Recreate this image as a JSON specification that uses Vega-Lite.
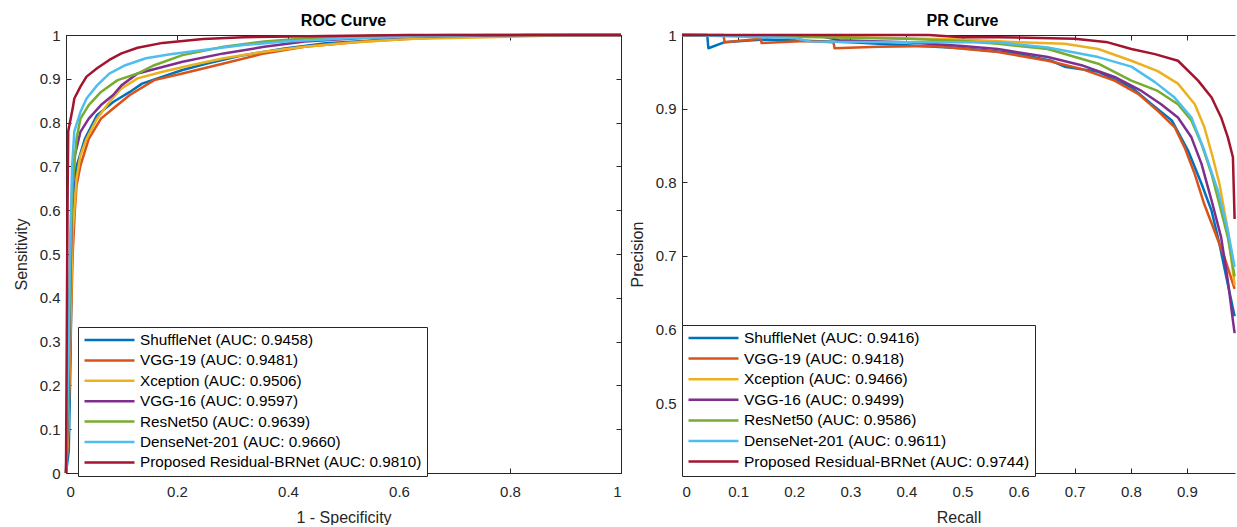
{
  "$schema": "https://vega.github.io/schema/vega-lite/v6.json",
  "background": "white",
  "padding": {"left": 13, "top": 13, "right": 0, "bottom": 0},
  "spacing": 6,
  "config": {
    "font": "Liberation Sans",
    "view": {"stroke": null},
    "axis": {
      "grid": false,
      "labelFontSize": 15,
      "labelColor": "#262626",
      "titleFontSize": 16,
      "titleFontWeight": "normal",
      "titleColor": "#262626",
      "domainColor": "#262626",
      "tickColor": "#262626",
      "tickSize": -5,
      "labelPadding": 11,
      "format": "~g"
    },
    "title": {"fontSize": 16, "fontWeight": "bold", "color": "#000000", "offset": -1}
  },
  "datasets": {
    "roc": [
      {"model": "ShuffleNet (AUC: 0.9458)", "fpr": 0, "tpr": 0},
      {"model": "ShuffleNet (AUC: 0.9458)", "fpr": 0.005, "tpr": 0.05},
      {"model": "ShuffleNet (AUC: 0.9458)", "fpr": 0.008, "tpr": 0.25},
      {"model": "ShuffleNet (AUC: 0.9458)", "fpr": 0.01, "tpr": 0.45},
      {"model": "ShuffleNet (AUC: 0.9458)", "fpr": 0.013, "tpr": 0.6},
      {"model": "ShuffleNet (AUC: 0.9458)", "fpr": 0.019, "tpr": 0.7},
      {"model": "ShuffleNet (AUC: 0.9458)", "fpr": 0.034, "tpr": 0.763},
      {"model": "ShuffleNet (AUC: 0.9458)", "fpr": 0.056, "tpr": 0.817},
      {"model": "ShuffleNet (AUC: 0.9458)", "fpr": 0.085, "tpr": 0.847},
      {"model": "ShuffleNet (AUC: 0.9458)", "fpr": 0.115, "tpr": 0.87},
      {"model": "ShuffleNet (AUC: 0.9458)", "fpr": 0.137, "tpr": 0.889},
      {"model": "ShuffleNet (AUC: 0.9458)", "fpr": 0.174, "tpr": 0.905},
      {"model": "ShuffleNet (AUC: 0.9458)", "fpr": 0.21, "tpr": 0.92},
      {"model": "ShuffleNet (AUC: 0.9458)", "fpr": 0.254, "tpr": 0.935},
      {"model": "ShuffleNet (AUC: 0.9458)", "fpr": 0.32, "tpr": 0.954},
      {"model": "ShuffleNet (AUC: 0.9458)", "fpr": 0.394, "tpr": 0.969},
      {"model": "ShuffleNet (AUC: 0.9458)", "fpr": 0.468, "tpr": 0.981},
      {"model": "ShuffleNet (AUC: 0.9458)", "fpr": 0.615, "tpr": 0.992},
      {"model": "ShuffleNet (AUC: 0.9458)", "fpr": 0.76, "tpr": 0.998},
      {"model": "ShuffleNet (AUC: 0.9458)", "fpr": 0.91, "tpr": 1},
      {"model": "ShuffleNet (AUC: 0.9458)", "fpr": 1, "tpr": 1},

      {"model": "VGG-19 (AUC: 0.9481)", "fpr": 0, "tpr": 0},
      {"model": "VGG-19 (AUC: 0.9481)", "fpr": 0.004, "tpr": 0.1},
      {"model": "VGG-19 (AUC: 0.9481)", "fpr": 0.009, "tpr": 0.35},
      {"model": "VGG-19 (AUC: 0.9481)", "fpr": 0.012, "tpr": 0.5},
      {"model": "VGG-19 (AUC: 0.9481)", "fpr": 0.016, "tpr": 0.6},
      {"model": "VGG-19 (AUC: 0.9481)", "fpr": 0.019, "tpr": 0.656},
      {"model": "VGG-19 (AUC: 0.9481)", "fpr": 0.026, "tpr": 0.702},
      {"model": "VGG-19 (AUC: 0.9481)", "fpr": 0.041, "tpr": 0.763},
      {"model": "VGG-19 (AUC: 0.9481)", "fpr": 0.063, "tpr": 0.809},
      {"model": "VGG-19 (AUC: 0.9481)", "fpr": 0.085, "tpr": 0.832},
      {"model": "VGG-19 (AUC: 0.9481)", "fpr": 0.115, "tpr": 0.863},
      {"model": "VGG-19 (AUC: 0.9481)", "fpr": 0.159, "tpr": 0.897},
      {"model": "VGG-19 (AUC: 0.9481)", "fpr": 0.21, "tpr": 0.912},
      {"model": "VGG-19 (AUC: 0.9481)", "fpr": 0.284, "tpr": 0.935},
      {"model": "VGG-19 (AUC: 0.9481)", "fpr": 0.357, "tpr": 0.958},
      {"model": "VGG-19 (AUC: 0.9481)", "fpr": 0.43, "tpr": 0.973},
      {"model": "VGG-19 (AUC: 0.9481)", "fpr": 0.54, "tpr": 0.986},
      {"model": "VGG-19 (AUC: 0.9481)", "fpr": 0.69, "tpr": 0.996},
      {"model": "VGG-19 (AUC: 0.9481)", "fpr": 0.83, "tpr": 1},
      {"model": "VGG-19 (AUC: 0.9481)", "fpr": 1, "tpr": 1},

      {"model": "Xception (AUC: 0.9506)", "fpr": 0, "tpr": 0},
      {"model": "Xception (AUC: 0.9506)", "fpr": 0.004, "tpr": 0.1},
      {"model": "Xception (AUC: 0.9506)", "fpr": 0.008, "tpr": 0.35},
      {"model": "Xception (AUC: 0.9506)", "fpr": 0.012, "tpr": 0.55},
      {"model": "Xception (AUC: 0.9506)", "fpr": 0.019, "tpr": 0.672},
      {"model": "Xception (AUC: 0.9506)", "fpr": 0.026, "tpr": 0.725},
      {"model": "Xception (AUC: 0.9506)", "fpr": 0.037, "tpr": 0.763},
      {"model": "Xception (AUC: 0.9506)", "fpr": 0.056, "tpr": 0.809},
      {"model": "Xception (AUC: 0.9506)", "fpr": 0.078, "tpr": 0.847},
      {"model": "Xception (AUC: 0.9506)", "fpr": 0.1, "tpr": 0.878},
      {"model": "Xception (AUC: 0.9506)", "fpr": 0.129, "tpr": 0.901},
      {"model": "Xception (AUC: 0.9506)", "fpr": 0.174, "tpr": 0.916},
      {"model": "Xception (AUC: 0.9506)", "fpr": 0.225, "tpr": 0.931},
      {"model": "Xception (AUC: 0.9506)", "fpr": 0.284, "tpr": 0.947},
      {"model": "Xception (AUC: 0.9506)", "fpr": 0.357, "tpr": 0.962},
      {"model": "Xception (AUC: 0.9506)", "fpr": 0.43, "tpr": 0.973},
      {"model": "Xception (AUC: 0.9506)", "fpr": 0.504, "tpr": 0.982},
      {"model": "Xception (AUC: 0.9506)", "fpr": 0.615, "tpr": 0.991},
      {"model": "Xception (AUC: 0.9506)", "fpr": 0.8, "tpr": 0.996},
      {"model": "Xception (AUC: 0.9506)", "fpr": 0.91, "tpr": 1},
      {"model": "Xception (AUC: 0.9506)", "fpr": 1, "tpr": 1},

      {"model": "VGG-16 (AUC: 0.9597)", "fpr": 0, "tpr": 0},
      {"model": "VGG-16 (AUC: 0.9597)", "fpr": 0.004, "tpr": 0.15},
      {"model": "VGG-16 (AUC: 0.9597)", "fpr": 0.008, "tpr": 0.45},
      {"model": "VGG-16 (AUC: 0.9597)", "fpr": 0.011, "tpr": 0.62},
      {"model": "VGG-16 (AUC: 0.9597)", "fpr": 0.015, "tpr": 0.72},
      {"model": "VGG-16 (AUC: 0.9597)", "fpr": 0.026, "tpr": 0.779},
      {"model": "VGG-16 (AUC: 0.9597)", "fpr": 0.041, "tpr": 0.809},
      {"model": "VGG-16 (AUC: 0.9597)", "fpr": 0.063, "tpr": 0.84},
      {"model": "VGG-16 (AUC: 0.9597)", "fpr": 0.085, "tpr": 0.863},
      {"model": "VGG-16 (AUC: 0.9597)", "fpr": 0.1, "tpr": 0.885},
      {"model": "VGG-16 (AUC: 0.9597)", "fpr": 0.129, "tpr": 0.912},
      {"model": "VGG-16 (AUC: 0.9597)", "fpr": 0.174, "tpr": 0.927},
      {"model": "VGG-16 (AUC: 0.9597)", "fpr": 0.21, "tpr": 0.939},
      {"model": "VGG-16 (AUC: 0.9597)", "fpr": 0.284, "tpr": 0.958},
      {"model": "VGG-16 (AUC: 0.9597)", "fpr": 0.357, "tpr": 0.973},
      {"model": "VGG-16 (AUC: 0.9597)", "fpr": 0.43, "tpr": 0.985},
      {"model": "VGG-16 (AUC: 0.9597)", "fpr": 0.54, "tpr": 0.994},
      {"model": "VGG-16 (AUC: 0.9597)", "fpr": 0.69, "tpr": 0.998},
      {"model": "VGG-16 (AUC: 0.9597)", "fpr": 0.83, "tpr": 1},
      {"model": "VGG-16 (AUC: 0.9597)", "fpr": 1, "tpr": 1},

      {"model": "ResNet50 (AUC: 0.9639)", "fpr": 0, "tpr": 0},
      {"model": "ResNet50 (AUC: 0.9639)", "fpr": 0.004, "tpr": 0.2},
      {"model": "ResNet50 (AUC: 0.9639)", "fpr": 0.008, "tpr": 0.5},
      {"model": "ResNet50 (AUC: 0.9639)", "fpr": 0.012, "tpr": 0.66},
      {"model": "ResNet50 (AUC: 0.9639)", "fpr": 0.019, "tpr": 0.763},
      {"model": "ResNet50 (AUC: 0.9639)", "fpr": 0.026, "tpr": 0.809},
      {"model": "ResNet50 (AUC: 0.9639)", "fpr": 0.041, "tpr": 0.84},
      {"model": "ResNet50 (AUC: 0.9639)", "fpr": 0.063, "tpr": 0.87},
      {"model": "ResNet50 (AUC: 0.9639)", "fpr": 0.093, "tpr": 0.897},
      {"model": "ResNet50 (AUC: 0.9639)", "fpr": 0.129, "tpr": 0.912},
      {"model": "ResNet50 (AUC: 0.9639)", "fpr": 0.159, "tpr": 0.931},
      {"model": "ResNet50 (AUC: 0.9639)", "fpr": 0.21, "tpr": 0.954},
      {"model": "ResNet50 (AUC: 0.9639)", "fpr": 0.284, "tpr": 0.973},
      {"model": "ResNet50 (AUC: 0.9639)", "fpr": 0.357, "tpr": 0.985},
      {"model": "ResNet50 (AUC: 0.9639)", "fpr": 0.43, "tpr": 0.992},
      {"model": "ResNet50 (AUC: 0.9639)", "fpr": 0.54, "tpr": 0.998},
      {"model": "ResNet50 (AUC: 0.9639)", "fpr": 0.69, "tpr": 1},
      {"model": "ResNet50 (AUC: 0.9639)", "fpr": 1, "tpr": 1},

      {"model": "DenseNet-201 (AUC: 0.9660)", "fpr": 0, "tpr": 0},
      {"model": "DenseNet-201 (AUC: 0.9660)", "fpr": 0.004, "tpr": 0.25},
      {"model": "DenseNet-201 (AUC: 0.9660)", "fpr": 0.008, "tpr": 0.55},
      {"model": "DenseNet-201 (AUC: 0.9660)", "fpr": 0.011, "tpr": 0.7},
      {"model": "DenseNet-201 (AUC: 0.9660)", "fpr": 0.015, "tpr": 0.78},
      {"model": "DenseNet-201 (AUC: 0.9660)", "fpr": 0.026, "tpr": 0.824},
      {"model": "DenseNet-201 (AUC: 0.9660)", "fpr": 0.037, "tpr": 0.855},
      {"model": "DenseNet-201 (AUC: 0.9660)", "fpr": 0.056, "tpr": 0.885},
      {"model": "DenseNet-201 (AUC: 0.9660)", "fpr": 0.078, "tpr": 0.912},
      {"model": "DenseNet-201 (AUC: 0.9660)", "fpr": 0.107, "tpr": 0.931},
      {"model": "DenseNet-201 (AUC: 0.9660)", "fpr": 0.144, "tpr": 0.947},
      {"model": "DenseNet-201 (AUC: 0.9660)", "fpr": 0.188, "tpr": 0.956},
      {"model": "DenseNet-201 (AUC: 0.9660)", "fpr": 0.247, "tpr": 0.966},
      {"model": "DenseNet-201 (AUC: 0.9660)", "fpr": 0.32, "tpr": 0.977},
      {"model": "DenseNet-201 (AUC: 0.9660)", "fpr": 0.394, "tpr": 0.985},
      {"model": "DenseNet-201 (AUC: 0.9660)", "fpr": 0.504, "tpr": 0.992},
      {"model": "DenseNet-201 (AUC: 0.9660)", "fpr": 0.615, "tpr": 0.996},
      {"model": "DenseNet-201 (AUC: 0.9660)", "fpr": 0.76, "tpr": 1},
      {"model": "DenseNet-201 (AUC: 0.9660)", "fpr": 1, "tpr": 1},

      {"model": "Proposed Residual-BRNet (AUC: 0.9810)", "fpr": 0, "tpr": 0},
      {"model": "Proposed Residual-BRNet (AUC: 0.9810)", "fpr": 0.002, "tpr": 0.45},
      {"model": "Proposed Residual-BRNet (AUC: 0.9810)", "fpr": 0.003, "tpr": 0.65},
      {"model": "Proposed Residual-BRNet (AUC: 0.9810)", "fpr": 0.004, "tpr": 0.78},
      {"model": "Proposed Residual-BRNet (AUC: 0.9810)", "fpr": 0.012, "tpr": 0.832},
      {"model": "Proposed Residual-BRNet (AUC: 0.9810)", "fpr": 0.015, "tpr": 0.855},
      {"model": "Proposed Residual-BRNet (AUC: 0.9810)", "fpr": 0.026, "tpr": 0.882},
      {"model": "Proposed Residual-BRNet (AUC: 0.9810)", "fpr": 0.037, "tpr": 0.905},
      {"model": "Proposed Residual-BRNet (AUC: 0.9810)", "fpr": 0.056, "tpr": 0.924},
      {"model": "Proposed Residual-BRNet (AUC: 0.9810)", "fpr": 0.078, "tpr": 0.943},
      {"model": "Proposed Residual-BRNet (AUC: 0.9810)", "fpr": 0.1, "tpr": 0.958},
      {"model": "Proposed Residual-BRNet (AUC: 0.9810)", "fpr": 0.129, "tpr": 0.971},
      {"model": "Proposed Residual-BRNet (AUC: 0.9810)", "fpr": 0.174, "tpr": 0.982},
      {"model": "Proposed Residual-BRNet (AUC: 0.9810)", "fpr": 0.247, "tpr": 0.991},
      {"model": "Proposed Residual-BRNet (AUC: 0.9810)", "fpr": 0.32, "tpr": 0.995},
      {"model": "Proposed Residual-BRNet (AUC: 0.9810)", "fpr": 0.468, "tpr": 0.998},
      {"model": "Proposed Residual-BRNet (AUC: 0.9810)", "fpr": 0.615, "tpr": 1},
      {"model": "Proposed Residual-BRNet (AUC: 0.9810)", "fpr": 1, "tpr": 1}
    ],
    "pr": [
      {"model": "ShuffleNet (AUC: 0.9416)", "recall": 0, "precision": 1},
      {"model": "ShuffleNet (AUC: 0.9416)", "recall": 0.045, "precision": 1},
      {"model": "ShuffleNet (AUC: 0.9416)", "recall": 0.047, "precision": 0.982},
      {"model": "ShuffleNet (AUC: 0.9416)", "recall": 0.075, "precision": 0.99},
      {"model": "ShuffleNet (AUC: 0.9416)", "recall": 0.15, "precision": 0.994},
      {"model": "ShuffleNet (AUC: 0.9416)", "recall": 0.3, "precision": 0.99},
      {"model": "ShuffleNet (AUC: 0.9416)", "recall": 0.4, "precision": 0.986},
      {"model": "ShuffleNet (AUC: 0.9416)", "recall": 0.5, "precision": 0.982},
      {"model": "ShuffleNet (AUC: 0.9416)", "recall": 0.587, "precision": 0.976},
      {"model": "ShuffleNet (AUC: 0.9416)", "recall": 0.658, "precision": 0.965},
      {"model": "ShuffleNet (AUC: 0.9416)", "recall": 0.682, "precision": 0.957},
      {"model": "ShuffleNet (AUC: 0.9416)", "recall": 0.742, "precision": 0.95},
      {"model": "ShuffleNet (AUC: 0.9416)", "recall": 0.801, "precision": 0.929},
      {"model": "ShuffleNet (AUC: 0.9416)", "recall": 0.837, "precision": 0.906},
      {"model": "ShuffleNet (AUC: 0.9416)", "recall": 0.873, "precision": 0.884},
      {"model": "ShuffleNet (AUC: 0.9416)", "recall": 0.902, "precision": 0.843},
      {"model": "ShuffleNet (AUC: 0.9416)", "recall": 0.926, "precision": 0.798},
      {"model": "ShuffleNet (AUC: 0.9416)", "recall": 0.944, "precision": 0.761},
      {"model": "ShuffleNet (AUC: 0.9416)", "recall": 0.958, "precision": 0.716},
      {"model": "ShuffleNet (AUC: 0.9416)", "recall": 0.973, "precision": 0.661},
      {"model": "ShuffleNet (AUC: 0.9416)", "recall": 0.985, "precision": 0.618},

      {"model": "VGG-19 (AUC: 0.9418)", "recall": 0, "precision": 1},
      {"model": "VGG-19 (AUC: 0.9418)", "recall": 0.074, "precision": 1},
      {"model": "VGG-19 (AUC: 0.9418)", "recall": 0.076, "precision": 0.99},
      {"model": "VGG-19 (AUC: 0.9418)", "recall": 0.14, "precision": 0.995},
      {"model": "VGG-19 (AUC: 0.9418)", "recall": 0.142, "precision": 0.989},
      {"model": "VGG-19 (AUC: 0.9418)", "recall": 0.22, "precision": 0.992},
      {"model": "VGG-19 (AUC: 0.9418)", "recall": 0.27, "precision": 0.99},
      {"model": "VGG-19 (AUC: 0.9418)", "recall": 0.272, "precision": 0.982},
      {"model": "VGG-19 (AUC: 0.9418)", "recall": 0.35, "precision": 0.984},
      {"model": "VGG-19 (AUC: 0.9418)", "recall": 0.45, "precision": 0.985},
      {"model": "VGG-19 (AUC: 0.9418)", "recall": 0.52, "precision": 0.98},
      {"model": "VGG-19 (AUC: 0.9418)", "recall": 0.563, "precision": 0.977},
      {"model": "VGG-19 (AUC: 0.9418)", "recall": 0.652, "precision": 0.965},
      {"model": "VGG-19 (AUC: 0.9418)", "recall": 0.712, "precision": 0.954},
      {"model": "VGG-19 (AUC: 0.9418)", "recall": 0.771, "precision": 0.938},
      {"model": "VGG-19 (AUC: 0.9418)", "recall": 0.813, "precision": 0.92},
      {"model": "VGG-19 (AUC: 0.9418)", "recall": 0.848, "precision": 0.897},
      {"model": "VGG-19 (AUC: 0.9418)", "recall": 0.878, "precision": 0.875},
      {"model": "VGG-19 (AUC: 0.9418)", "recall": 0.896, "precision": 0.847},
      {"model": "VGG-19 (AUC: 0.9418)", "recall": 0.914, "precision": 0.811},
      {"model": "VGG-19 (AUC: 0.9418)", "recall": 0.931, "precision": 0.77},
      {"model": "VGG-19 (AUC: 0.9418)", "recall": 0.949, "precision": 0.734},
      {"model": "VGG-19 (AUC: 0.9418)", "recall": 0.967, "precision": 0.698},
      {"model": "VGG-19 (AUC: 0.9418)", "recall": 0.985, "precision": 0.655},

      {"model": "Xception (AUC: 0.9466)", "recall": 0, "precision": 1},
      {"model": "Xception (AUC: 0.9466)", "recall": 0.3, "precision": 0.997},
      {"model": "Xception (AUC: 0.9466)", "recall": 0.5, "precision": 0.994},
      {"model": "Xception (AUC: 0.9466)", "recall": 0.6, "precision": 0.99},
      {"model": "Xception (AUC: 0.9466)", "recall": 0.682, "precision": 0.988},
      {"model": "Xception (AUC: 0.9466)", "recall": 0.742, "precision": 0.981},
      {"model": "Xception (AUC: 0.9466)", "recall": 0.801, "precision": 0.965},
      {"model": "Xception (AUC: 0.9466)", "recall": 0.848, "precision": 0.951},
      {"model": "Xception (AUC: 0.9466)", "recall": 0.884, "precision": 0.934},
      {"model": "Xception (AUC: 0.9466)", "recall": 0.914, "precision": 0.906},
      {"model": "Xception (AUC: 0.9466)", "recall": 0.931, "precision": 0.875},
      {"model": "Xception (AUC: 0.9466)", "recall": 0.946, "precision": 0.834},
      {"model": "Xception (AUC: 0.9466)", "recall": 0.958, "precision": 0.798},
      {"model": "Xception (AUC: 0.9466)", "recall": 0.973, "precision": 0.734},
      {"model": "Xception (AUC: 0.9466)", "recall": 0.985, "precision": 0.66},

      {"model": "VGG-16 (AUC: 0.9499)", "recall": 0, "precision": 1},
      {"model": "VGG-16 (AUC: 0.9499)", "recall": 0.25, "precision": 0.998},
      {"model": "VGG-16 (AUC: 0.9499)", "recall": 0.28, "precision": 0.993},
      {"model": "VGG-16 (AUC: 0.9499)", "recall": 0.4, "precision": 0.99},
      {"model": "VGG-16 (AUC: 0.9499)", "recall": 0.5, "precision": 0.985},
      {"model": "VGG-16 (AUC: 0.9499)", "recall": 0.563, "precision": 0.981},
      {"model": "VGG-16 (AUC: 0.9499)", "recall": 0.652, "precision": 0.97},
      {"model": "VGG-16 (AUC: 0.9499)", "recall": 0.712, "precision": 0.959},
      {"model": "VGG-16 (AUC: 0.9499)", "recall": 0.771, "precision": 0.943},
      {"model": "VGG-16 (AUC: 0.9499)", "recall": 0.819, "precision": 0.924},
      {"model": "VGG-16 (AUC: 0.9499)", "recall": 0.854, "precision": 0.906},
      {"model": "VGG-16 (AUC: 0.9499)", "recall": 0.884, "precision": 0.888},
      {"model": "VGG-16 (AUC: 0.9499)", "recall": 0.908, "precision": 0.861},
      {"model": "VGG-16 (AUC: 0.9499)", "recall": 0.926, "precision": 0.825},
      {"model": "VGG-16 (AUC: 0.9499)", "recall": 0.944, "precision": 0.775},
      {"model": "VGG-16 (AUC: 0.9499)", "recall": 0.961, "precision": 0.725},
      {"model": "VGG-16 (AUC: 0.9499)", "recall": 0.973, "precision": 0.666},
      {"model": "VGG-16 (AUC: 0.9499)", "recall": 0.982, "precision": 0.612},
      {"model": "VGG-16 (AUC: 0.9499)", "recall": 0.985, "precision": 0.595},

      {"model": "ResNet50 (AUC: 0.9586)", "recall": 0, "precision": 1},
      {"model": "ResNet50 (AUC: 0.9586)", "recall": 0.4, "precision": 0.995},
      {"model": "ResNet50 (AUC: 0.9586)", "recall": 0.5, "precision": 0.992},
      {"model": "ResNet50 (AUC: 0.9586)", "recall": 0.563, "precision": 0.988},
      {"model": "ResNet50 (AUC: 0.9586)", "recall": 0.652, "precision": 0.981},
      {"model": "ResNet50 (AUC: 0.9586)", "recall": 0.742, "precision": 0.961},
      {"model": "ResNet50 (AUC: 0.9586)", "recall": 0.801, "precision": 0.938},
      {"model": "ResNet50 (AUC: 0.9586)", "recall": 0.848, "precision": 0.924},
      {"model": "ResNet50 (AUC: 0.9586)", "recall": 0.884, "precision": 0.906},
      {"model": "ResNet50 (AUC: 0.9586)", "recall": 0.908, "precision": 0.884},
      {"model": "ResNet50 (AUC: 0.9586)", "recall": 0.926, "precision": 0.852},
      {"model": "ResNet50 (AUC: 0.9586)", "recall": 0.944, "precision": 0.811},
      {"model": "ResNet50 (AUC: 0.9586)", "recall": 0.961, "precision": 0.761},
      {"model": "ResNet50 (AUC: 0.9586)", "recall": 0.973, "precision": 0.725},
      {"model": "ResNet50 (AUC: 0.9586)", "recall": 0.985, "precision": 0.672},

      {"model": "DenseNet-201 (AUC: 0.9611)", "recall": 0, "precision": 1},
      {"model": "DenseNet-201 (AUC: 0.9611)", "recall": 0.2, "precision": 0.996},
      {"model": "DenseNet-201 (AUC: 0.9611)", "recall": 0.23, "precision": 0.991},
      {"model": "DenseNet-201 (AUC: 0.9611)", "recall": 0.4, "precision": 0.99},
      {"model": "DenseNet-201 (AUC: 0.9611)", "recall": 0.563, "precision": 0.99},
      {"model": "DenseNet-201 (AUC: 0.9611)", "recall": 0.652, "precision": 0.983},
      {"model": "DenseNet-201 (AUC: 0.9611)", "recall": 0.742, "precision": 0.97},
      {"model": "DenseNet-201 (AUC: 0.9611)", "recall": 0.801, "precision": 0.957},
      {"model": "DenseNet-201 (AUC: 0.9611)", "recall": 0.843, "precision": 0.936},
      {"model": "DenseNet-201 (AUC: 0.9611)", "recall": 0.878, "precision": 0.915},
      {"model": "DenseNet-201 (AUC: 0.9611)", "recall": 0.908, "precision": 0.888},
      {"model": "DenseNet-201 (AUC: 0.9611)", "recall": 0.931, "precision": 0.843},
      {"model": "DenseNet-201 (AUC: 0.9611)", "recall": 0.955, "precision": 0.789},
      {"model": "DenseNet-201 (AUC: 0.9611)", "recall": 0.973, "precision": 0.734},
      {"model": "DenseNet-201 (AUC: 0.9611)", "recall": 0.985, "precision": 0.685},

      {"model": "Proposed Residual-BRNet (AUC: 0.9744)", "recall": 0, "precision": 1},
      {"model": "Proposed Residual-BRNet (AUC: 0.9744)", "recall": 0.44, "precision": 1},
      {"model": "Proposed Residual-BRNet (AUC: 0.9744)", "recall": 0.5, "precision": 0.997},
      {"model": "Proposed Residual-BRNet (AUC: 0.9744)", "recall": 0.563, "precision": 0.997},
      {"model": "Proposed Residual-BRNet (AUC: 0.9744)", "recall": 0.7, "precision": 0.995},
      {"model": "Proposed Residual-BRNet (AUC: 0.9744)", "recall": 0.759, "precision": 0.99},
      {"model": "Proposed Residual-BRNet (AUC: 0.9744)", "recall": 0.801, "precision": 0.981},
      {"model": "Proposed Residual-BRNet (AUC: 0.9744)", "recall": 0.843, "precision": 0.974},
      {"model": "Proposed Residual-BRNet (AUC: 0.9744)", "recall": 0.884, "precision": 0.965},
      {"model": "Proposed Residual-BRNet (AUC: 0.9744)", "recall": 0.92, "precision": 0.938},
      {"model": "Proposed Residual-BRNet (AUC: 0.9744)", "recall": 0.944, "precision": 0.915},
      {"model": "Proposed Residual-BRNet (AUC: 0.9744)", "recall": 0.961, "precision": 0.888},
      {"model": "Proposed Residual-BRNet (AUC: 0.9744)", "recall": 0.973, "precision": 0.861},
      {"model": "Proposed Residual-BRNet (AUC: 0.9744)", "recall": 0.982, "precision": 0.834},
      {"model": "Proposed Residual-BRNet (AUC: 0.9744)", "recall": 0.985, "precision": 0.75}
    ]
  },
  "resolve": {"scale": {"color": "independent", "strokeWidth": "independent"}, "legend": {"color": "independent", "strokeWidth": "independent"}},
  "hconcat": [
    {
      "width": 555,
      "height": 438,
      "data": {"name": "roc"},
      "title": {"text": "ROC Curve"},
      "layer": [
        {
          "mark": {"type": "line", "strokeJoin": "round"},
          "encoding": {
            "x": {"field": "fpr", "type": "quantitative", "scale": {"domain": [0, 1], "nice": false, "zero": false},
                  "axis": {"orient": "bottom", "values": [0, 0.2, 0.4, 0.6, 0.8, 1], "title": "1 - Specificity", "labelPadding": 16, "titlePadding": 10}},
            "y": {"field": "tpr", "type": "quantitative", "scale": {"domain": [0, 1], "nice": false, "zero": false},
                  "axis": {"orient": "left", "values": [0, 0.1, 0.2, 0.3, 0.4, 0.5, 0.6, 0.7, 0.8, 0.9, 1], "title": "Sensitivity", "titlePadding": 10}},
            "order": [{"field": "tpr", "sort": "ascending"}, {"field": "fpr", "sort": "ascending"}],
            "color": {"field": "model", "type": "nominal",
              "scale": {"domain": ["ShuffleNet (AUC: 0.9458)", "VGG-19 (AUC: 0.9481)", "Xception (AUC: 0.9506)", "VGG-16 (AUC: 0.9597)", "ResNet50 (AUC: 0.9639)", "DenseNet-201 (AUC: 0.9660)", "Proposed Residual-BRNet (AUC: 0.9810)"],
                        "range": ["#0072BD", "#D95319", "#EDB120", "#7E2F8E", "#77AC30", "#4DBEEE", "#A2142F"]},
              "legend": {"orient": "none", "legendX": 12, "legendY": 292, "title": null, "symbolType": "stroke", "symbolSize": 2500, "clipHeight": 16, "rowPadding": 3.4, "labelFontSize": 15.3, "labelColor": "#000000", "labelLimit": 500, "strokeColor": "#262626", "fillColor": "white", "padding": 5, "labelOffset": 4}},
            "strokeWidth": {"field": "model", "type": "nominal",
              "scale": {"domain": ["ShuffleNet (AUC: 0.9458)", "VGG-19 (AUC: 0.9481)", "Xception (AUC: 0.9506)", "VGG-16 (AUC: 0.9597)", "ResNet50 (AUC: 0.9639)", "DenseNet-201 (AUC: 0.9660)", "Proposed Residual-BRNet (AUC: 0.9810)"],
                        "range": [2.5, 2.5, 2.5, 2.5, 2.5, 2.5, 4.5]},
              "legend": {"orient": "none", "legendX": 12, "legendY": 292, "title": null, "symbolType": "stroke", "symbolSize": 2500, "clipHeight": 16, "rowPadding": 3.4, "labelFontSize": 15.3, "labelColor": "#000000", "labelLimit": 500, "strokeColor": "#262626", "fillColor": "white", "padding": 5, "labelOffset": 4}}
          }
        },
        {
          "mark": {"type": "line", "strokeOpacity": 0},
          "encoding": {
            "x": {"field": "fpr", "type": "quantitative", "scale": {"domain": [0, 1], "nice": false, "zero": false},
                  "axis": {"orient": "top", "values": [0, 0.2, 0.4, 0.6, 0.8, 1], "labels": false, "title": null}},
            "y": {"field": "tpr", "type": "quantitative", "scale": {"domain": [0, 1], "nice": false, "zero": false},
                  "axis": {"orient": "right", "values": [0, 0.1, 0.2, 0.3, 0.4, 0.5, 0.6, 0.7, 0.8, 0.9, 1], "labels": false, "title": null}},
            "detail": {"field": "model", "type": "nominal"},
            "order": [{"field": "tpr", "sort": "ascending"}, {"field": "fpr", "sort": "ascending"}]
          }
        }
      ],
      "resolve": {"axis": {"x": "independent", "y": "independent"}}
    },
    {
      "width": 553,
      "height": 438,
      "data": {"name": "pr"},
      "title": {"text": "PR Curve", "dx": 4},
      "layer": [
        {
          "mark": {"type": "line", "strokeJoin": "round"},
          "encoding": {
            "x": {"field": "recall", "type": "quantitative", "scale": {"domain": [0, 0.9857], "nice": false, "zero": false},
                  "axis": {"orient": "bottom", "values": [0, 0.1, 0.2, 0.3, 0.4, 0.5, 0.6, 0.7, 0.8, 0.9], "title": "Recall", "labelPadding": 16, "titlePadding": 10}},
            "y": {"field": "precision", "type": "quantitative", "scale": {"domain": [0.405, 1], "nice": false, "zero": false},
                  "axis": {"orient": "left", "values": [0.5, 0.6, 0.7, 0.8, 0.9, 1], "title": "Precision", "titlePadding": 10}},
            "order": [{"field": "recall", "sort": "ascending"}, {"field": "precision", "sort": "descending"}],
            "color": {"field": "model", "type": "nominal",
              "scale": {"domain": ["ShuffleNet (AUC: 0.9416)", "VGG-19 (AUC: 0.9418)", "Xception (AUC: 0.9466)", "VGG-16 (AUC: 0.9499)", "ResNet50 (AUC: 0.9586)", "DenseNet-201 (AUC: 0.9611)", "Proposed Residual-BRNet (AUC: 0.9744)"],
                        "range": ["#0072BD", "#D95319", "#EDB120", "#7E2F8E", "#77AC30", "#4DBEEE", "#A2142F"]},
              "legend": {"orient": "none", "legendX": 0, "legendY": 290, "title": null, "symbolType": "stroke", "symbolSize": 2500, "clipHeight": 16, "rowPadding": 3.6, "labelFontSize": 15.5, "labelColor": "#000000", "labelLimit": 500, "strokeColor": "#262626", "fillColor": "white", "padding": 5, "labelOffset": 4}},
            "strokeWidth": {"field": "model", "type": "nominal",
              "scale": {"domain": ["ShuffleNet (AUC: 0.9416)", "VGG-19 (AUC: 0.9418)", "Xception (AUC: 0.9466)", "VGG-16 (AUC: 0.9499)", "ResNet50 (AUC: 0.9586)", "DenseNet-201 (AUC: 0.9611)", "Proposed Residual-BRNet (AUC: 0.9744)"],
                        "range": [2.5, 2.5, 2.5, 2.5, 2.5, 2.5, 4.5]},
              "legend": {"orient": "none", "legendX": 0, "legendY": 290, "title": null, "symbolType": "stroke", "symbolSize": 2500, "clipHeight": 16, "rowPadding": 3.6, "labelFontSize": 15.5, "labelColor": "#000000", "labelLimit": 500, "strokeColor": "#262626", "fillColor": "white", "padding": 5, "labelOffset": 4}}
          }
        },
        {
          "mark": {"type": "line", "strokeOpacity": 0},
          "encoding": {
            "x": {"field": "recall", "type": "quantitative", "scale": {"domain": [0, 0.9857], "nice": false, "zero": false},
                  "axis": {"orient": "top", "values": [0, 0.1, 0.2, 0.3, 0.4, 0.5, 0.6, 0.7, 0.8, 0.9], "labels": false, "title": null}},
            "y": {"field": "precision", "type": "quantitative", "scale": {"domain": [0.405, 1], "nice": false, "zero": false}, "axis": null},
            "detail": {"field": "model", "type": "nominal"},
            "order": [{"field": "recall", "sort": "ascending"}, {"field": "precision", "sort": "descending"}]
          }
        }
      ],
      "resolve": {"axis": {"x": "independent", "y": "independent"}}
    }
  ]
}
